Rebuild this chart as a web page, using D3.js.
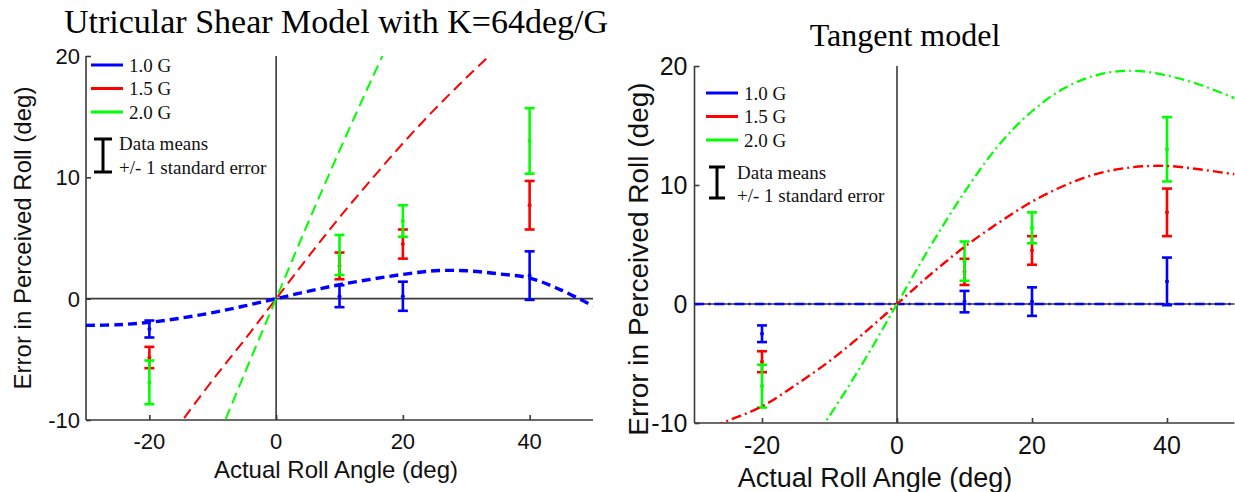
<!DOCTYPE html>
<html>
<head>
<meta charset="utf-8">
<script src="https://cdn.jsdelivr.net/npm/d3@7/dist/d3.min.js"></script>
<style>
  html, body { margin: 0; padding: 0; background: #fff; }
  svg { display: block; }
  .serif { font-family: "Liberation Serif", "Times New Roman", serif; }
  .sans { font-family: "Liberation Sans", Arial, sans-serif; }
</style>
</head>
<body>
<svg id="chart" width="1235" height="492"></svg>
<script>
// ---- experimental data (means and standard errors) ----
const rollAngles = [-20, 10, 20, 40];
const mean10G = [-2.5, 0.2, 0.2, 1.9];
const se10G   = [0.7, 0.9, 1.2, 2.0];
const mean15G = [-4.85, 2.7, 4.5, 7.7];
const se15G   = [0.88, 1.1, 1.2, 2.0];
const mean20G = [-6.9, 3.6, 6.4, 13.0];
const se20G   = [1.8, 1.65, 1.3, 2.7];

// ---- utricular shear model predictions ----
const shearX10 = [-30, -25, -20, -15, -10, -5, 0, 5, 10, 15, 20, 25, 30, 35, 40, 45, 50];
const shearY10 = [-2.2, -2.15, -1.95, -1.6, -1.15, -0.6, 0, 0.6, 1.15, 1.6, 2.0, 2.3, 2.3, 2.05, 1.7, 0.7, -0.6];
const shearX15 = [-16, -15, -10, -5, 0, 5, 10, 15, 20, 25, 30, 35];
const shearY15 = [-11, -10.2, -6.7, -3.4, 0, 3.4, 6.7, 9.8, 12.8, 15.6, 18.2, 20.7];
const shearX20 = [-10, -5, 0, 5, 10, 15, 20];
const shearY20 = [-12.5, -6.2, 0, 6.2, 12.2, 18.0, 23.6];

// ---- tangent model predictions ----
const tanX10 = [-30, -20, -10, 0, 10, 20, 30, 40, 50];
const tanY10 = [0, 0, 0, 0, 0, 0, 0, 0, 0];
const tanX15 = [-30, -25, -20, -15, -10, -5, 0, 5, 10, 15, 20, 25, 30, 35, 40, 45, 50];
const tanY15 = [-10.9, -9.8, -8.6, -6.8, -4.8, -2.5, 0, 2.5, 4.8, 6.8, 8.6, 10.0, 11.0, 11.5, 11.6, 11.3, 10.9];
const tanX20 = [-15, -10, -5, 0, 5, 10, 15, 20, 25, 30, 35, 40, 45, 50];
const tanY20 = [-13.5, -9.4, -4.9, 0, 4.9, 9.4, 13.3, 16.2, 18.2, 19.3, 19.6, 19.2, 18.4, 17.3];

// ---- axis ticks and labels ----
const xTicks = [-20, 0, 20, 40];
const yTicks = [-10, 0, 10, 20];
const legendLabels = ["1.0 G", "1.5 G", "2.0 G"];
const seriesColors = ["#0000ff", "#ff0000", "#00ff00"];
const titles = ["Utricular Shear Model with K=64deg/G", "Tangent model"];
const xAxisLabel = "Actual Roll Angle (deg)";
const yAxisLabel = "Error in Perceived Roll (deg)";

const svg = d3.select("#chart");
const axisColor = "#3a3a3a";

const zip = (xs, ys) => xs.map((x, i) => [x, ys[i]]);

function drawPanel(cfg) {
  const x = d3.scaleLinear().domain([-30, 50]).range([cfg.left, cfg.right]);
  const y = d3.scaleLinear().domain([-10, 20]).range([cfg.bottom, cfg.top]);
  const g = svg.append("g");

  const clipId = "clip" + cfg.id;
  svg.append("clipPath").attr("id", clipId)
    .append("rect")
    .attr("x", cfg.left).attr("y", cfg.top)
    .attr("width", cfg.right - cfg.left).attr("height", cfg.bottom - cfg.top);

  // title
  g.append("text").attr("class", "serif")
    .attr("x", cfg.titleX).attr("y", cfg.titleY)
    .attr("text-anchor", "middle").attr("font-size", cfg.titleSize)
    .text(cfg.title);

  // axes (ticks drawn inside the plot area)
  const yAxis = d3.axisRight(y).tickValues(yTicks).tickSize(5).tickFormat("");
  const xAxis = d3.axisTop(x).tickValues(xTicks).tickSize(5).tickFormat("");
  const ya = g.append("g").attr("transform", `translate(${cfg.left},0)`).call(yAxis);
  const xa = g.append("g").attr("transform", `translate(0,${cfg.bottom})`).call(xAxis);
  [ya, xa].forEach(a => {
    a.select(".domain").attr("stroke", axisColor).attr("stroke-width", 1.6);
    a.selectAll(".tick line").attr("stroke", axisColor).attr("stroke-width", 1.6);
  });
  // keep only the axis line itself, no end stubs
  ya.select(".domain").attr("d", `M0,${cfg.top}V${cfg.bottom}`);
  xa.select(".domain").attr("d", `M${cfg.left},0H${cfg.right}`);

  // tick labels
  g.selectAll(".ylab").data(yTicks).join("text").attr("class", "sans")
    .attr("x", cfg.left - cfg.yTickGap).attr("y", d => y(d))
    .attr("dy", "0.36em").attr("text-anchor", "end")
    .attr("font-size", cfg.tickSize).attr("fill", "#111")
    .text(d => d);
  g.selectAll(".xlab").data(xTicks).join("text").attr("class", "sans")
    .attr("x", d => x(d)).attr("y", cfg.xTickY)
    .attr("text-anchor", "middle")
    .attr("font-size", cfg.tickSize).attr("fill", "#111")
    .text(d => d);

  // axis titles
  g.append("text").attr("class", "sans")
    .attr("x", cfg.xLabelX).attr("y", cfg.xLabelY)
    .attr("text-anchor", "middle").attr("font-size", cfg.xLabelSize).attr("fill", "#111")
    .text(xAxisLabel);
  g.append("text").attr("class", "sans")
    .attr("transform", `translate(${cfg.yLabelX},${cfg.yLabelY}) rotate(-90)`)
    .attr("text-anchor", "middle").attr("font-size", cfg.yLabelSize).attr("fill", "#111")
    .text(yAxisLabel);

  // zero reference lines
  g.append("line").attr("x1", cfg.left).attr("x2", cfg.right)
    .attr("y1", y(0)).attr("y2", y(0))
    .attr("stroke", axisColor).attr("stroke-width", 1.6);
  g.append("line").attr("x1", x(0)).attr("x2", x(0))
    .attr("y1", cfg.top).attr("y2", cfg.bottom)
    .attr("stroke", axisColor).attr("stroke-width", 1.6);

  // error bars: data means +/- 1 standard error
  const bars = [
    { m: mean10G, s: se10G, c: seriesColors[0] },
    { m: mean15G, s: se15G, c: seriesColors[1] },
    { m: mean20G, s: se20G, c: seriesColors[2] }
  ];
  const eb = g.append("g");
  bars.forEach(b => {
    rollAngles.forEach((a, i) => {
      const cx = x(a), y1 = y(b.m[i] + b.s[i]), y0 = y(b.m[i] - b.s[i]);
      const hw = 5;
      eb.append("line").attr("x1", cx).attr("x2", cx).attr("y1", y1).attr("y2", y0)
        .attr("stroke", b.c).attr("stroke-width", 2.6);
      eb.append("line").attr("x1", cx - hw).attr("x2", cx + hw).attr("y1", y1).attr("y2", y1)
        .attr("stroke", b.c).attr("stroke-width", 2.6);
      eb.append("line").attr("x1", cx - hw).attr("x2", cx + hw).attr("y1", y0).attr("y2", y0)
        .attr("stroke", b.c).attr("stroke-width", 2.6);
      eb.append("circle").attr("cx", cx).attr("cy", y(b.m[i])).attr("r", 2)
        .attr("fill", b.c);
    });
  });

  // model curves
  const line = d3.line().x(d => x(d[0])).y(d => y(d[1])).curve(d3.curveCatmullRom);
  const cg = g.append("g").attr("clip-path", `url(#${clipId})`);
  cfg.curves.forEach((c, i) => {
    cg.append("path").datum(zip(c.xs, c.ys))
      .attr("d", line).attr("fill", "none")
      .attr("stroke", seriesColors[i])
      .attr("stroke-width", c.w)
      .attr("stroke-dasharray", c.dash);
  });

  // legend
  const lg = g.append("g");
  legendLabels.forEach((lab, i) => {
    const ly = cfg.legY + i * cfg.legStep;
    lg.append("line").attr("x1", cfg.legX).attr("x2", cfg.legX + 32)
      .attr("y1", ly).attr("y2", ly)
      .attr("stroke", seriesColors[i]).attr("stroke-width", 3);
    lg.append("text").attr("class", "serif")
      .attr("x", cfg.legX + 38).attr("y", ly).attr("dy", "0.35em")
      .attr("font-size", cfg.legSize).attr("fill", "#111")
      .text(lab);
  });
  const ix = cfg.barIconX, iy0 = cfg.barIconTop, iy1 = cfg.barIconBottom, iw = cfg.barIconHalf;
  lg.append("path")
    .attr("d", `M${ix - iw},${iy0}H${ix + iw}M${ix},${iy0}V${iy1}M${ix - iw},${iy1}H${ix + iw}`)
    .attr("stroke", "#000").attr("stroke-width", 3).attr("fill", "none");
  lg.append("text").attr("class", "serif")
    .attr("x", cfg.barTextX).attr("y", cfg.barTextY1)
    .attr("font-size", cfg.legSize).attr("fill", "#111").text("Data means");
  lg.append("text").attr("class", "serif")
    .attr("x", cfg.barTextX).attr("y", cfg.barTextY2)
    .attr("font-size", cfg.legSize).attr("fill", "#111").text("+/- 1 standard error");
}

drawPanel({
  id: "shear", left: 86, right: 593, top: 56, bottom: 420,
  title: titles[0], titleX: 336, titleY: 33, titleSize: 34,
  tickSize: 22, yTickGap: 6, xTickY: 449,
  xLabelX: 336, xLabelY: 478, xLabelSize: 24,
  yLabelX: 31, yLabelY: 238, yLabelSize: 24,
  curves: [
    { xs: shearX10, ys: shearY10, w: 3.4, dash: "9,5" },
    { xs: shearX15, ys: shearY15, w: 2, dash: "11,6" },
    { xs: shearX20, ys: shearY20, w: 2, dash: "11,6" }
  ],
  legX: 91, legY: 65, legStep: 23.5, legSize: 19,
  barIconX: 103, barIconTop: 139, barIconBottom: 172, barIconHalf: 9,
  barTextX: 119, barTextY1: 150, barTextY2: 174
});

drawPanel({
  id: "tangent", left: 694.5, right: 1234.5, top: 66, bottom: 423,
  title: titles[1], titleX: 905, titleY: 46, titleSize: 32,
  tickSize: 25, yTickGap: 7, xTickY: 454,
  xLabelX: 875, xLabelY: 487, xLabelSize: 27,
  yLabelX: 648, yLabelY: 259, yLabelSize: 28,
  curves: [
    { xs: tanX10, ys: tanY10, w: 2.6, dash: "10,4,2,4" },
    { xs: tanX15, ys: tanY15, w: 2.4, dash: "10,4,2,4" },
    { xs: tanX20, ys: tanY20, w: 2.2, dash: "10,4,2,4" }
  ],
  legX: 706, legY: 93, legStep: 23.5, legSize: 19,
  barIconX: 717, barIconTop: 167, barIconBottom: 198, barIconHalf: 8,
  barTextX: 737, barTextY1: 179, barTextY2: 202
});
</script>
</body>
</html>
